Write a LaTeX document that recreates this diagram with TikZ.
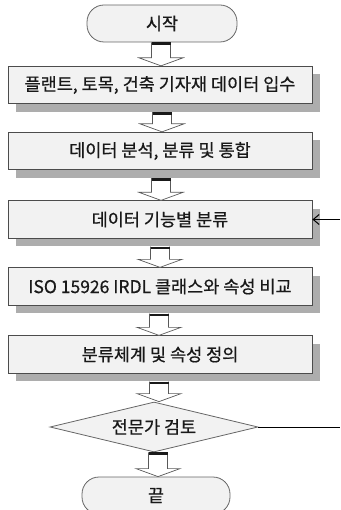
\documentclass[tikz,border=0pt]{standalone}
\usepackage{fontspec}
\setmainfont{Noto Sans CJK KR}[FakeBold=0.6]
\usetikzlibrary{shapes.geometric,shadows,calc,arrows.meta}

\tikzset{
  base/.style={draw=black!70, line width=0.8pt, fill=black!5, text=black!90,
    font=\fontsize{17.5}{20}\selectfont, inner sep=0pt},
  procbox/.style={base, rectangle, minimum width=304pt, minimum height=37.5pt,
    drop shadow={shadow xshift=8pt, shadow yshift=-8pt, fill=black!32, opacity=1}},
  term/.style={base, draw=black!60, rectangle, rounded corners=17pt,
    minimum height=37pt},
  decision/.style={base, draw=black!60, diamond, aspect=4,
    minimum width=208pt, minimum height=50pt},
  blockarrow/.style={draw=black!65, line width=0.7pt, fill=white},
  arrowbar/.style={draw=black!90, line width=2.6pt},
  feedback/.style={draw=black, line width=1pt},
}

% hollow block arrow from a point (top) down to a point (tip)
\newcommand\blockarr[2]{%
  \path let \p1=(#1), \p2=(#2) in
    [blockarrow] (\x2-9.5pt,\y1) -- (\x2-9.5pt,\y2+8pt) -- (\x2-22pt,\y2+8pt)
      -- (\p2) -- (\x2+22pt,\y2+8pt) -- (\x2+9.5pt,\y2+8pt) -- (\x2+9.5pt,\y1)
    (\x2-9.5pt,\y1-1.3pt) edge[arrowbar] (\x2+9.5pt,\y1-1.3pt);%
}

\begin{document}
\begin{tikzpicture}[x=1pt, y=-1pt]
  \useasboundingbox (0,0) rectangle (340,510);

  \node[term, minimum width=150pt] (start) at (162,23.5) {시작};
  \node[procbox] (b1) at (160,85)    {플랜트, 토목, 건축 기자재 데이터 입수};
  \node[procbox] (b2) at (160,151)   {데이터 분석, 분류 및 통합};
  \node[procbox] (b3) at (160,219.5) {데이터 기능별 분류};
  \node[procbox] (b4) at (160,286.5) {ISO 15926 IRDL 클래스와 속성 비교};
  \node[procbox] (b5) at (160,354.5) {분류체계 및 속성 정의};
  \node[decision] (rev) at (154,427) {전문가 검토};
  \node[term, minimum width=148pt] (end) at (156,495.5) {끝};

  \blockarr{start.south}{$(b1.north)+(1,0)$}
  \blockarr{$(b1.south)+(0,8)$}{$(b2.north)+(2,0)$}
  \blockarr{$(b2.south)+(0,8)$}{$(b3.north)+(1,0)$}
  \blockarr{$(b3.south)+(0,8)$}{$(b4.north)+(0,0)$}
  \blockarr{$(b4.south)+(0,8)$}{$(b5.north)+(-1,0)$}
  \blockarr{$(b5.south)+(0,8)$}{$(rev.north)+(5,0)$}
  \blockarr{rev.south}{$(end.north)+(2,0)$}

  % feedback from the review back to classification
  \coordinate (fbout) at (340,427);
  \coordinate (fbin) at (340,219.5);
  \draw[feedback] (rev.east) -- (fbout);
  \draw[feedback, -{Straight Barb[length=6pt,width=10pt]}] (fbin) -- (b3.east);
\end{tikzpicture}
\end{document}
